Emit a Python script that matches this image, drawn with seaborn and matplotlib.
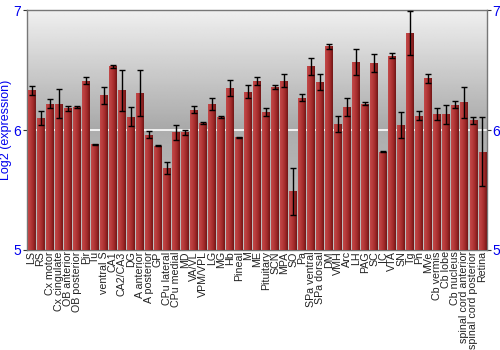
import numpy as np
import pandas as pd
import matplotlib
matplotlib.use("Agg")
import matplotlib.pyplot as plt
import seaborn as sns
from matplotlib.colors import LinearSegmentedColormap

regions = ["LS", "RS", "Cx motor", "Cx cingulate", "OB anterior", "OB posterior", "Pir", "Tu",
           "ventral S", "CA1", "CA2/CA3", "DG", "A anterior", "A posterior", "GP", "CPu lateral",
           "CPu medial", "MD", "VA/VL", "VPM/VPL", "LG", "MG", "Hb", "Pineal", "M", "ME",
           "Pituitary", "SCN", "MPA", "SO", "Pa", "SPa ventral", "SPa dorsal", "DM", "VMH", "Arc",
           "LH", "PAG", "SC", "IC", "VTA", "SN", "Tg", "Pn", "MVe", "Cb vermis", "Cb lobe",
           "Cb nucleus", "spinal cord anterior", "spinal cord posterior", "Retina"]
expression = [6.33, 6.10, 6.22, 6.22, 6.18, 6.19, 6.41, 5.88,
              6.29, 6.53, 6.33, 6.11, 6.31, 5.96, 5.87, 5.68,
              5.98, 5.98, 6.17, 6.06, 6.22, 6.11, 6.35, 5.94, 6.32, 6.41,
              6.15, 6.36, 6.41, 5.49, 6.27, 6.53, 6.40, 6.70, 6.05, 6.19,
              6.57, 6.22, 6.56, 5.82, 6.62, 6.04, 6.81, 6.12, 6.43, 6.13, 6.13,
              6.21, 6.23, 6.08, 5.82]
error = [0.04, 0.06, 0.04, 0.12, 0.02, 0.01, 0.03, 0.005,
         0.07, 0.01, 0.17, 0.08, 0.19, 0.03, 0.005, 0.05,
         0.06, 0.02, 0.03, 0.01, 0.05, 0.01, 0.065, 0.005, 0.055, 0.035,
         0.035, 0.015, 0.055, 0.195, 0.03, 0.07, 0.07, 0.02, 0.065, 0.075,
         0.11, 0.015, 0.075, 0.005, 0.02, 0.11, 0.18, 0.035, 0.04, 0.05, 0.08,
         0.03, 0.13, 0.03, 0.29]
yticks = [5, 6, 7]

df = pd.DataFrame({"region": regions, "expression": expression, "error": error})

sns.set_theme(style="white")
plt.rcParams['font.family'] = ['Liberation Sans', 'DejaVu Sans']

fig = plt.figure(figsize=(5, 3.5), dpi=100)
ax = fig.add_axes([0.054, 0.286, 0.92, 0.685])

# background gradient
ymin, ymax = 5, 7
n = len(regions)
top = np.linspace(0.94, 0.66, 128)
bot = np.linspace(0.68, 0.75, 128)
grad = np.concatenate([top, bot])[:, None]
ax.imshow(np.repeat(grad, 2, axis=1), cmap="gray", vmin=0, vmax=1, aspect="auto",
          extent=(-0.5, n - 0.5, ymin, ymax), origin="upper", zorder=0)
ax.axhline(6, color="white", lw=1.2, zorder=1)

sns.barplot(data=df, x="region", y="expression", color="#b03030", width=0.88,
            errorbar=None, ax=ax, zorder=2, edgecolor="none")

# horizontal red gradient in bars
cmap = LinearSegmentedColormap.from_list("bar", ["#c44a4a", "#b83a3a", "#a02828", "#6e1414"])
hg = np.linspace(0, 1, 64)[None, :]
for p in ax.patches:
    x0, y0 = p.get_x(), p.get_y()
    w, h = p.get_width(), p.get_height()
    im = ax.imshow(hg, cmap=cmap, aspect="auto", extent=(x0, x0 + w, ymin, y0 + h),
                   zorder=3, alpha=0.95)
    im.set_clip_path(p)

ax.errorbar(np.arange(n), df["expression"], yerr=df["error"], fmt="none",
            ecolor="black", elinewidth=1.0, capsize=2.2, capthick=1.0, zorder=4)

ax.set_xlim(-0.5, n - 0.5)
ax.set_ylim(ymin, ymax)
ax.set_yticks(yticks)
ax.set_yticklabels([str(t) for t in yticks], color="#0000ee", fontsize=10)
ax.tick_params(axis="y", which="both", left=True, right=True, labelleft=True,
               labelright=True, length=3, width=0.8, color="#333333", pad=1)
ax.tick_params(axis="x", length=0, pad=1)
ax.set_xticks(np.arange(n))
ax.set_xticklabels(regions, rotation=90, fontsize=7.7, color="#222222")
ax.set_xlabel("")
ax.set_ylabel("Log2 (expression)", color="#0000ee", fontsize=9, labelpad=1)
for s in ax.spines.values():
    s.set_color("#777777")
    s.set_linewidth(1.0)
ax.set_facecolor("white")

fig.savefig("out.png", dpi=100)
